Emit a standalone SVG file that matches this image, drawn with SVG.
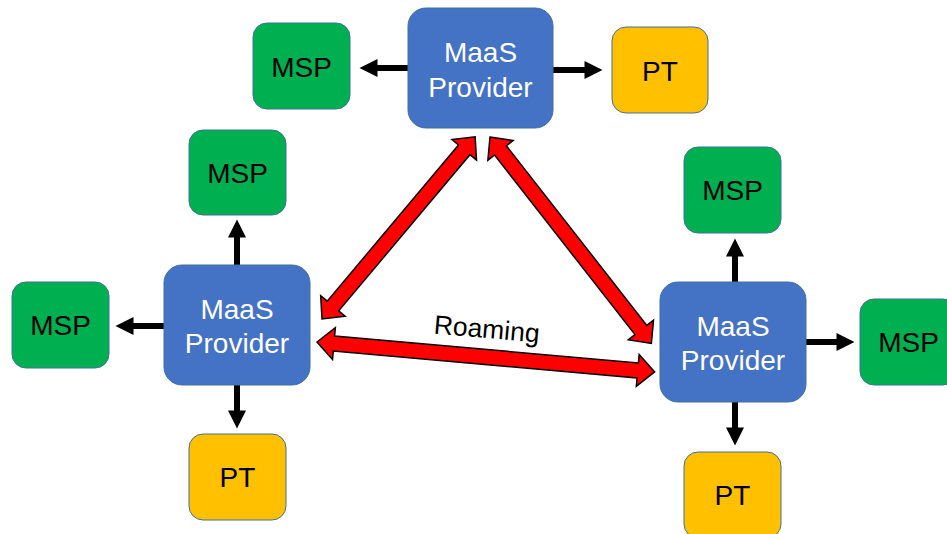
<svg xmlns="http://www.w3.org/2000/svg" width="947" height="534" viewBox="0 0 947 534">
  <style>
    .box { stroke: #41719C; stroke-width: 1; }
    .maas { fill: #4472C4; }
    .msp { fill: #00B050; }
    .pt { fill: #FFC000; }
    text { font-family: "Liberation Sans", Arial, sans-serif; text-anchor: middle; }
    .lbl { font-size: 28px; fill: #000000; }
    .wlbl { font-size: 28px; fill: #FFFFFF; }
    .link { stroke: #000000; stroke-width: 6; fill: none; marker-end: url(#head); }
    .roam { fill: #FF0000; stroke: #000000; stroke-width: 1.5; stroke-linejoin: miter; }
  </style>
  <defs>
    <marker id="head" markerUnits="userSpaceOnUse" markerWidth="19" markerHeight="18" refX="0.5" refY="9" orient="auto" overflow="visible">
      <path d="M0,0 L18,9 L0,18 Z" fill="#000000"/>
    </marker>
  </defs>
  <rect width="947" height="534" fill="#FFFFFF"/>

  <!-- connectors -->
  <g id="connectors">
    <!-- top provider -->
    <line class="link" x1="408" y1="68" x2="377" y2="68"/>
    <line class="link" x1="553" y1="70" x2="585" y2="70"/>
    <!-- left provider -->
    <line class="link" x1="237" y1="265" x2="237" y2="237"/>
    <line class="link" x1="164" y1="326" x2="133" y2="326"/>
    <line class="link" x1="237" y1="385" x2="237" y2="411"/>
    <!-- right provider -->
    <line class="link" x1="735" y1="282" x2="735" y2="256"/>
    <line class="link" x1="806" y1="342" x2="837" y2="342"/>
    <line class="link" x1="735" y1="402" x2="735" y2="428"/>
    <!-- roaming links between providers -->
    <polygon class="roam" transform="translate(322,319) rotate(-49.94)" points="0,0 17,-16 17,-7.5 221,-7.5 221,-16 238,0 221,16 221,7.5 17,7.5 17,16"/>
    <polygon class="roam" transform="translate(490,137) rotate(51.98)" points="0,0 17,-16 17,-7.5 245,-7.5 245,-16 262,0 245,16 245,7.5 17,7.5 17,16"/>
    <polygon class="roam" transform="translate(317,342) rotate(5.07)" points="0,0 17,-16 17,-7.5 322,-7.5 322,-16 339,0 322,16 322,7.5 17,7.5 17,16"/>
    <text x="486" y="338" font-size="26.5" fill="#000000" transform="rotate(5 486 338)">Roaming</text>
  </g>

  <!-- top provider and its services -->
  <g id="maas-top">
    <rect class="box maas" x="408" y="8" width="145" height="120" rx="18"/>
    <text class="wlbl" x="480.5" y="62">MaaS</text>
    <text class="wlbl" x="480.5" y="97">Provider</text>
  </g>
  <g id="msp-top">
    <rect class="box msp" x="253" y="23" width="97" height="86" rx="14"/>
    <text class="lbl" x="301.5" y="77">MSP</text>
  </g>
  <g id="pt-top">
    <rect class="box pt" x="612" y="27" width="96" height="86" rx="14"/>
    <text class="lbl" x="660" y="81">PT</text>
  </g>

  <!-- left provider and its services -->
  <g id="maas-left">
    <rect class="box maas" x="164" y="265" width="146" height="120" rx="18"/>
    <text class="wlbl" x="237" y="319">MaaS</text>
    <text class="wlbl" x="237" y="353">Provider</text>
  </g>
  <g id="msp-left-top">
    <rect class="box msp" x="189" y="130" width="97" height="85" rx="14"/>
    <text class="lbl" x="237.5" y="183">MSP</text>
  </g>
  <g id="msp-left">
    <rect class="box msp" x="12" y="282" width="97" height="86" rx="14"/>
    <text class="lbl" x="60.5" y="335">MSP</text>
  </g>
  <g id="pt-left">
    <rect class="box pt" x="189" y="434" width="97" height="86" rx="14"/>
    <text class="lbl" x="237.5" y="487">PT</text>
  </g>

  <!-- right provider and its services -->
  <g id="maas-right">
    <rect class="box maas" x="660" y="282" width="146" height="120" rx="18"/>
    <text class="wlbl" x="733" y="336">MaaS</text>
    <text class="wlbl" x="733" y="370">Provider</text>
  </g>
  <g id="msp-right-top">
    <rect class="box msp" x="684" y="147" width="97" height="86" rx="14"/>
    <text class="lbl" x="732.5" y="200">MSP</text>
  </g>
  <g id="msp-right">
    <rect class="box msp" x="860" y="299" width="97" height="86" rx="14"/>
    <text class="lbl" x="908.5" y="352">MSP</text>
  </g>
  <g id="pt-right">
    <rect class="box pt" x="684" y="452" width="97" height="86" rx="14"/>
    <text class="lbl" x="732.5" y="505">PT</text>
  </g>
</svg>
